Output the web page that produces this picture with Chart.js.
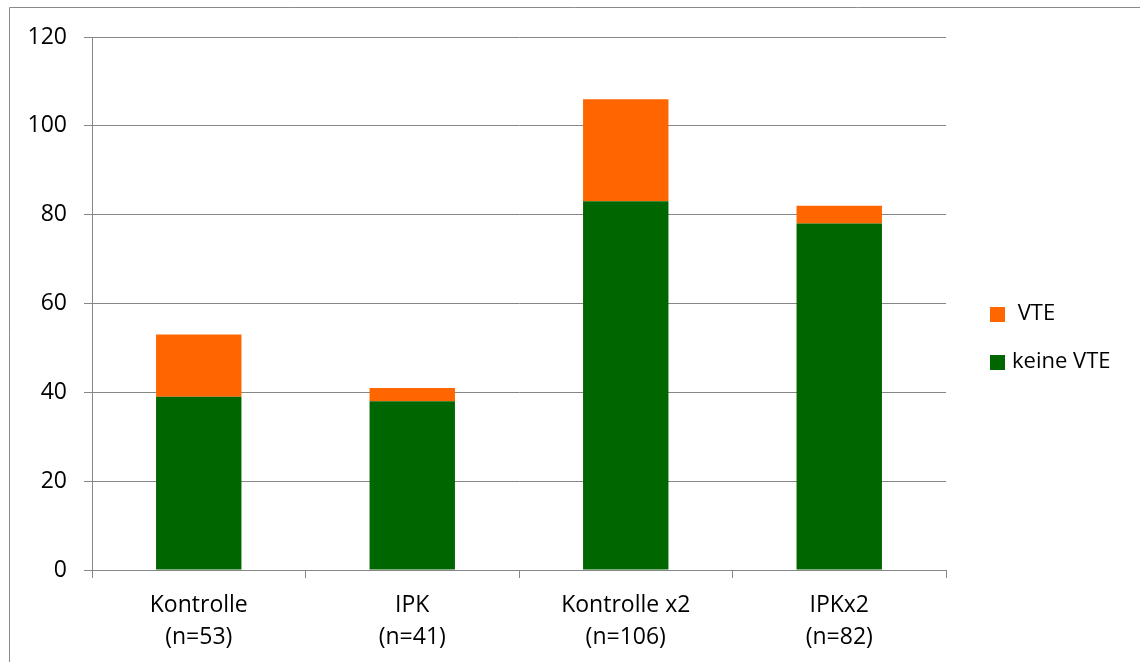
<!DOCTYPE html>
<html>
<head>
<meta charset="utf-8">
<script src="https://cdn.jsdelivr.net/npm/chart.js@4.4.1/dist/chart.umd.min.js"></script>
<style>
  html, body { margin: 0; padding: 0; background: #ffffff; }
  #wrap { position: relative; width: 1140px; height: 662px; }
</style>
</head>
<body>
<div id="wrap"><canvas id="c" width="1140" height="662"></canvas></div>
<script>
// Groups (two-line category labels)
const categories = [
  ['Kontrolle', '(n=53)'],
  ['IPK', '(n=41)'],
  ['Kontrolle x2', '(n=106)'],
  ['IPKx2', '(n=82)']
];
// Patients without venous thromboembolism
const keineVTE = [39, 38, 83, 78];
// Patients with venous thromboembolism
const vte = [14, 3, 23, 4];
// Value axis
const yMin = 0;
const yMax = 120;
const yStep = 20;

const GRID = '#868686';
const FONT = { family: '"Open Sans", "Noto Sans", sans-serif', size: 23 };

// Outer frame of the chart area
const framePlugin = {
  id: 'frame',
  beforeDraw(chart) {
    const ctx = chart.ctx;
    ctx.save();
    ctx.fillStyle = '#ffffff';
    ctx.fillRect(0, 0, chart.width, chart.height);
    ctx.strokeStyle = '#8a8a8a';
    ctx.lineWidth = 1;
    ctx.beginPath();
    ctx.moveTo(9.5, chart.height);
    ctx.lineTo(9.5, 7.5);
    ctx.lineTo(chart.width, 7.5);
    ctx.stroke();
    ctx.restore();
  }
};

// Legend on the right, series listed top-down in reverse stacking order
const sideLegend = {
  id: 'sideLegend',
  afterDraw(chart) {
    const ctx = chart.ctx;
    const items = chart.data.datasets.slice().reverse();
    const x = 990, box = 15, y0 = 314, gap = 48;
    ctx.save();
    ctx.font = '22px ' + FONT.family;
    ctx.textBaseline = 'middle';
    ctx.textAlign = 'left';
    items.forEach((ds, i) => {
      const cy = y0 + i * gap;
      ctx.fillStyle = ds.backgroundColor;
      ctx.fillRect(x, cy - 7, box, box);
      ctx.fillStyle = '#000000';
      ctx.fillText(ds.label, x + box + 7, cy);
    });
    ctx.restore();
  }
};

new Chart(document.getElementById('c'), {
  type: 'bar',
  data: {
    labels: categories,
    datasets: [
      {
        label: 'keine VTE',
        data: keineVTE,
        backgroundColor: '#006600',
        borderWidth: 0
      },
      {
        label: ' VTE',
        data: vte,
        backgroundColor: '#FF6600',
        borderWidth: 0
      }
    ]
  },
  options: {
    responsive: false,
    animation: false,
    layout: { padding: { left: 0, top: 37, right: 194, bottom: 0 } },
    datasets: {
      bar: { barPercentage: 0.4, categoryPercentage: 1.0 }
    },
    plugins: {
      legend: { display: false },
      tooltip: { enabled: false }
    },
    scales: {
      x: {
        stacked: true,
        afterFit(scale) { scale.height = 92; },
        grid: {
          drawOnChartArea: false,
          drawTicks: true,
          tickLength: 8,
          color: GRID,
          lineWidth: 1
        },
        border: { display: true, color: GRID, width: 1 },
        ticks: {
          color: '#000000',
          font: Object.assign({}, FONT, { lineHeight: '32px' }),
          padding: 11,
          maxRotation: 0,
          autoSkip: false
        }
      },
      y: {
        stacked: true,
        min: yMin,
        max: yMax,
        afterFit(scale) { scale.width = 92; },
        grid: {
          drawOnChartArea: true,
          drawTicks: true,
          tickLength: 8,
          color: GRID,
          lineWidth: 1
        },
        border: { display: true, color: GRID, width: 1 },
        ticks: {
          stepSize: yStep,
          color: '#000000',
          font: FONT,
          padding: 17
        }
      }
    }
  },
  plugins: [framePlugin, sideLegend]
});
</script>
</body>
</html>
